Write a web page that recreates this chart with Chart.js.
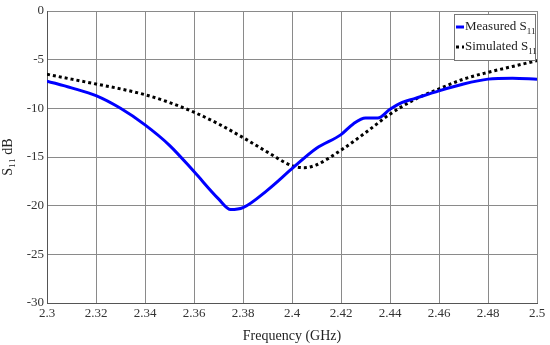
<!DOCTYPE html>
<html>
<head>
<meta charset="utf-8">
<script src="https://cdn.jsdelivr.net/npm/chart.js@4"></script>
<style>
  html, body { margin: 0; padding: 0; background: #fff; }
  #wrap { width: 550px; height: 345px; }
</style>
</head>
<body>
<div id="wrap"><canvas id="chart"></canvas></div>
<script>
// values
var freqMeasured = [2.30, 2.31, 2.32, 2.33, 2.34, 2.35, 2.36, 2.37, 2.375, 2.38, 2.39, 2.40, 2.41, 2.42, 2.425, 2.43, 2.435, 2.44, 2.445, 2.45, 2.46, 2.47, 2.48, 2.49, 2.50];
var measured     = [-7.2, -7.9, -8.7, -10.0, -11.7, -13.8, -16.5, -19.3, -20.4, -20.2, -18.4, -16.2, -14.1, -12.7, -11.6, -11.0, -11.0, -10.1, -9.4, -9.0, -8.2, -7.5, -7.0, -6.9, -7.0];

var freqSimulated = [2.30, 2.31, 2.32, 2.33, 2.34, 2.35, 2.36, 2.37, 2.38, 2.39, 2.40, 2.405, 2.41, 2.42, 2.43, 2.44, 2.45, 2.46, 2.47, 2.48, 2.49, 2.50];
var simulated     = [-6.5, -7.0, -7.5, -8.0, -8.6, -9.4, -10.4, -11.6, -13.0, -14.5, -15.9, -16.1, -15.8, -14.3, -12.5, -10.6, -9.1, -8.0, -7.0, -6.3, -5.7, -5.1];

var xTicks = [2.3, 2.32, 2.34, 2.36, 2.38, 2.4, 2.42, 2.44, 2.46, 2.48, 2.5];
var yTicks = [-30, -25, -20, -15, -10, -5, 0];

var seriesNames = ['Measured S', 'Simulated S'];
var seriesSub = '11';

var serif = '"Liberation Serif", "DejaVu Serif", serif';

function toPoints(xs, ys) {
    var pts = [];
    for (var i = 0; i < xs.length; i++) {
        pts.push({x: xs[i], y: ys[i]});
    }
    return pts;
}

// legend drawn inside the plot, top right, with real subscripts
var insideLegend = {
    id: 'insideLegend',
    afterDraw: function (chart) {
        var ctx = chart.ctx;
        var area = chart.chartArea;
        var bx = area.right - 83, by = area.top + 3, bw = 81, bh = 46;
        ctx.save();
        ctx.fillStyle = '#fff';
        ctx.fillRect(bx, by, bw, bh);
        ctx.strokeStyle = '#777';
        ctx.lineWidth = 1;
        ctx.strokeRect(bx + 0.5, by + 0.5, bw, bh);
        var ds = chart.data.datasets;
        for (var i = 0; i < ds.length; i++) {
            var ly = by + 12 + i * 20;
            ctx.strokeStyle = ds[i].borderColor;
            ctx.lineWidth = 3;
            ctx.setLineDash(ds[i].borderDash || []);
            ctx.beginPath();
            ctx.moveTo(bx + 2, ly + 1);
            ctx.lineTo(bx + 10, ly + 1);
            ctx.stroke();
            ctx.setLineDash([]);
            ctx.fillStyle = '#222';
            ctx.textBaseline = 'alphabetic';
            ctx.font = '13px ' + serif;
            ctx.fillText(seriesNames[i], bx + 11, ly + 4);
            var w = ctx.measureText(seriesNames[i]).width;
            ctx.font = '9px ' + serif;
            ctx.fillText(seriesSub, bx + 11 + w, ly + 8);
        }
        ctx.restore();
    }
};

new Chart(document.getElementById('chart'), {
    type: 'line',
    data: {
        datasets: [
            {
                label: 'Measured S11',
                data: toPoints(freqMeasured, measured),
                borderColor: '#0000ff',
                borderWidth: 3,
                pointRadius: 0,
                cubicInterpolationMode: 'monotone',
                fill: false
            },
            {
                label: 'Simulated S11',
                data: toPoints(freqSimulated, simulated),
                borderColor: '#000000',
                borderWidth: 3,
                borderDash: [3, 3],
                pointRadius: 0,
                cubicInterpolationMode: 'monotone',
                fill: false
            }
        ]
    },
    options: {
        responsive: true,
        maintainAspectRatio: false,
        animation: false,
        layout: { padding: { top: 11, right: 13, left: 0, bottom: 0 } },
        plugins: {
            legend: { display: false },
            tooltip: { enabled: false }
        },
        scales: {
            x: {
                type: 'linear',
                min: 2.3,
                max: 2.5,
                afterBuildTicks: function (scale) {
                    scale.ticks = xTicks.map(function (v) { return {value: v}; });
                },
                afterFit: function (scale) { scale.height = 42; },
                ticks: {
                    padding: 3,
                    color: '#333',
                    font: { family: serif, size: 13 },
                    maxRotation: 0,
                    callback: function (v) { return String(Number(v.toFixed(2))); }
                },
                grid: { color: '#8a8a8a', lineWidth: 1, drawTicks: false },
                border: { color: '#555', width: 1 },
                title: {
                    display: true,
                    text: 'Frequency (GHz)',
                    color: '#222',
                    font: { family: serif, size: 14 },
                    padding: { top: 2, bottom: 0 }
                }
            },
            y: {
                min: -30,
                max: 0,
                afterBuildTicks: function (scale) {
                    scale.ticks = yTicks.map(function (v) { return {value: v}; });
                },
                afterFit: function (scale) { scale.width = 47; },
                ticks: {
                    padding: 3,
                    color: '#333',
                    font: { family: serif, size: 13 }
                },
                grid: { color: '#8a8a8a', lineWidth: 1, drawTicks: false },
                border: { color: '#555', width: 1 },
                title: {
                    display: true,
                    text: 'S\u2081\u2081 dB',
                    color: '#222',
                    font: { family: serif, size: 14 },
                    padding: { top: 0, bottom: 2 }
                }
            }
        }
    },
    plugins: [insideLegend]
});
</script>
</body>
</html>
